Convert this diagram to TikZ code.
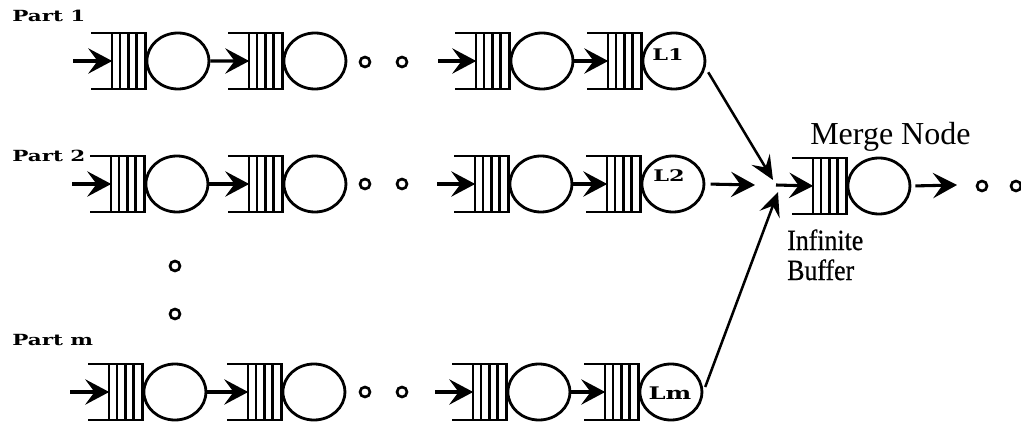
\documentclass[tikz,border=0pt]{standalone}
\usepackage{fontspec}
\setmainfont{Liberation Serif}
\newfontfamily\partfont{DejaVu Serif}[FakeStretch=1.4]
\newfontfamily\narrowserif{Liberation Serif}[FakeStretch=0.88,FakeBold=0.6]
\usetikzlibrary{arrows.meta,shapes.geometric,calc}

% one station: an open-ended buffer (four slots) followed by a server
\newcommand\station[3]{%
  \node[qbox,anchor=west] (#1q) at (#2,#3) {};
  \node[server,anchor=west] (#1c) at (#1q.east) {};
  \coordinate (#1in) at ($(#1q.west)!0.389!(#1q.east)$);
  \draw[qline] (#1q.north west) -- (#1q.north east) -- (#1q.south east) -- (#1q.south west);
  \foreach \f in {0.389,0.537,0.685,0.833}
    \draw[qline] ($(#1q.north west)!\f!(#1q.north east)$) -- ($(#1q.south west)!\f!(#1q.south east)$);
}

\tikzset{
  qbox/.style={rectangle,draw=none,inner sep=0pt,minimum width=40.5pt,minimum height=42pt},
  server/.style={ellipse,draw,line width=2.1pt,inner sep=0pt,minimum width=46.5pt,minimum height=42pt},
  qline/.style={line width=1.8pt},
  flow/.style={line width=2.3pt,-{Stealth[length=18pt,width=19pt,inset=7pt]}},
  thinflow/.style={line width=1.9pt,-{Stealth[length=18pt,width=16pt,inset=7pt]}},
  dotc/.style={circle,draw,line width=2pt,inner sep=0pt,minimum size=7.5pt},
  partlbl/.style={anchor=base west,inner sep=0pt,font=\partfont\bfseries\fontsize{11.5}{14}\selectfont},
  srvlbl/.style={inner sep=0pt,font=\partfont\bfseries\fontsize{12}{14}\selectfont},
}

\begin{document}
\begin{tikzpicture}[x=0.75pt,y=-0.75pt]
\useasboundingbox (0,0) rectangle (1021,424);
\fill[white] (0,0) rectangle (1021,424);

% part lines
\station{a1}{91}{61}
\station{a2}{228}{61}
\station{a3}{455}{61}
\station{a4}{587}{61}
\station{b1}{90}{184}
\station{b2}{228}{184}
\station{b3}{454}{184}
\station{b4}{586}{184}
\station{c1}{88}{392}
\station{c2}{227}{392}
\station{c3}{452}{392}
\station{c4}{584}{392}

% merge station
\station{m}{792}{186}

% line labels
\node[partlbl] (p1) at (12,22) {Part 1};
\node[partlbl] (p2) at (12,162) {Part 2};
\node[partlbl] (pm) at (12,345) {Part m};
\node[srvlbl] (l1) at ($(a4c)+(-6,-6)$) {L1};
\node[srvlbl] (l2) at ($(b4c)+(-4,-8)$) {L2};
\node[srvlbl,font=\partfont\bfseries\fontsize{13}{14}\selectfont] (lm) at ($(c4c)+(-1,1)$) {Lm};

% incoming arrows
\foreach \r in {a,b,c} {
  \coordinate (\r src) at ($(\r 1in)+(-39,0)$);
  \draw[flow] (\r src) -- (\r 1in);
  \draw[flow] (\r 1c.east) -- (\r 2in);
  \draw[flow] (\r 3c.east) -- (\r 3c.east -| \r 4in) ;
}
\coordinate (a3src) at ($(a3in)+(-38,0)$);
\coordinate (b3src) at ($(b3in)+(-38,0)$);
\coordinate (c3src) at ($(c3in)+(-38,0)$);
\draw[flow] (a3src) -- (a3in);
\draw[flow] (b3src) -- (b3in);
\draw[flow] (c3src) -- (c3in);

% ellipsis dots
\node[dotc] (da1) at (365,62) {};
\node[dotc] (da2) at (402,62) {};
\node[dotc] (db1) at (365,184) {};
\node[dotc] (db2) at (402,184) {};
\node[dotc] (dc1) at (365,392) {};
\node[dotc] (dc2) at (402,392) {};
\node[dotc] (dv1) at (175,266) {};
\node[dotc] (dv2) at (175,314) {};

% converging flows
\coordinate (j1) at (773,180);
\coordinate (j2) at (755,185);
\coordinate (j3) at (778,192);
\coordinate (jm) at (776,185);
\draw[thinflow,shorten <=4pt] (a4c.-12) -- (j1);
\draw[flow,shorten <=4pt] (b4c.east) -- (j2);
\draw[thinflow,shorten <=4pt] (c4c.east) -- (j3);
\draw[flow] (jm) -- (min);

% outgoing
\coordinate (mout) at (957,185);
\draw[flow,shorten <=3pt] (mc.east) -- (mout);
\node[dotc] (dm1) at (982,186) {};
\node[dotc] (dm2) at (1016,186) {};

% captions
\node[anchor=base west,inner sep=0pt,font=\fontsize{24}{28}\selectfont] (mn) at (810,145) {Merge Node};
\node[anchor=base west,inner sep=0pt,font=\narrowserif\fontsize{22}{26}\selectfont] (ib1) at (787,250) {Infinite};
\node[anchor=base west,inner sep=0pt,font=\narrowserif\fontsize{22}{26}\selectfont] (ib2) at (787,280) {Buffer};
\end{tikzpicture}
\end{document}
